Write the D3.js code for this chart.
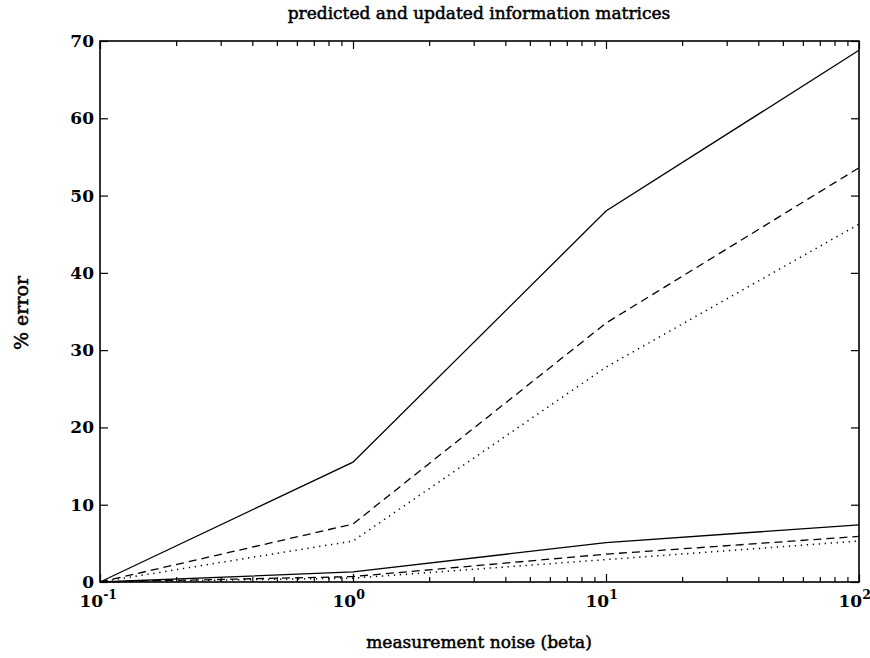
<!DOCTYPE html>
<html>
<head>
<meta charset="utf-8">
<script src="https://cdn.jsdelivr.net/npm/d3@7"></script>
<style>
html,body{margin:0;padding:0;background:#fff;}
svg{display:block;}
</style>
</head>
<body>
<svg id="chart" width="870" height="658"></svg>
<script>
// ---- data ----
const xValues = [0.1, 1, 10, 100];
const predictedSolid  = [0, 15.5, 48.0, 68.8];
const predictedDashed = [0, 7.5, 33.5, 53.6];
const predictedDotted = [0, 5.3, 27.8, 46.3];
const updatedSolid    = [0, 1.3, 5.1, 7.4];
const updatedDashed   = [0, 0.7, 3.6, 5.9];
const updatedDotted   = [0, 0.5, 2.9, 5.3];
const xMajorTicks = [0.1, 1, 10, 100];
const yTicks = [0, 10, 20, 30, 40, 50, 60, 70];
const titleText = "predicted and updated information matrices";
const xLabelText = "measurement noise (beta)";
const yLabelText = "% error";

// ---- layout ----
const plotLeft = 100, plotRight = 859, plotTop = 41, plotBottom = 582;
const svg = d3.select("#chart");
const x = d3.scaleLog().domain([0.1, 100]).range([plotLeft, plotRight]);
const y = d3.scaleLinear().domain([0, 70]).range([plotBottom, plotTop]);
const font = "'DejaVu Serif', 'Liberation Serif', serif";

const xMinor = [];
[0.1, 1, 10].forEach(d => { for (let k = 2; k <= 9; k++) xMinor.push(+(d * k).toFixed(3)); });

function styleAxis(g) {
  g.select(".domain").remove();
  g.selectAll(".tick line").attr("stroke", "#000").attr("stroke-width", 1.2);
}

// frame
svg.append("rect").attr("x", plotLeft).attr("y", plotTop)
  .attr("width", plotRight - plotLeft).attr("height", plotBottom - plotTop)
  .attr("fill", "none").attr("stroke", "#000").attr("stroke-width", 1.6);

// bottom axis major with labels
const gxb = svg.append("g").attr("transform", `translate(0,${plotBottom})`)
  .call(d3.axisBottom(x).tickValues(xMajorTicks).tickSize(-8).tickPadding(16).tickFormat(() => ""));
styleAxis(gxb);
gxb.selectAll(".tick text").each(function(d) {
  const t = d3.select(this);
  t.text("10").attr("font-family", font).attr("font-size", 17).attr("font-weight", "bold")
    .attr("fill", "#000").attr("x", -21).attr("y", 25).attr("dy", null).attr("text-anchor", "start");
  t.append("tspan").attr("dy", -8).attr("font-size", 12.5)
    .text(String(Math.round(Math.log10(d))));
});
// bottom minor
styleAxis(svg.append("g").attr("transform", `translate(0,${plotBottom})`)
  .call(d3.axisBottom(x).tickValues(xMinor).tickSize(-5).tickFormat(() => "")));
// top axis
styleAxis(svg.append("g").attr("transform", `translate(0,${plotTop})`)
  .call(d3.axisTop(x).tickValues(xMajorTicks).tickSize(-8).tickFormat(() => "")));
styleAxis(svg.append("g").attr("transform", `translate(0,${plotTop})`)
  .call(d3.axisTop(x).tickValues(xMinor).tickSize(-5).tickFormat(() => "")));

// left axis
const gyl = svg.append("g").attr("transform", `translate(${plotLeft},0)`)
  .call(d3.axisLeft(y).tickValues(yTicks).tickSize(-8).tickPadding(6).tickFormat(d3.format("d")));
styleAxis(gyl);
gyl.selectAll(".tick text").attr("font-family", font).attr("font-size", 17)
  .attr("font-weight", "bold").attr("fill", "#000").attr("x", -6);
// right axis
styleAxis(svg.append("g").attr("transform", `translate(${plotRight},0)`)
  .call(d3.axisRight(y).tickValues(yTicks).tickSize(-8).tickFormat(() => "")));

// lines
const series = [
  {vals: predictedSolid, dash: null},
  {vals: predictedDashed, dash: "8,5"},
  {vals: predictedDotted, dash: "1.3,4.7"},
  {vals: updatedSolid, dash: null},
  {vals: updatedDashed, dash: "8,5"},
  {vals: updatedDotted, dash: "1.3,4.7"}
];
const line = d3.line().x(d => x(d[0])).y(d => y(d[1]));
series.forEach(s => {
  svg.append("path")
    .datum(xValues.map((xv, i) => [xv, s.vals[i]]))
    .attr("d", line)
    .attr("fill", "none").attr("stroke", "#000")
    .attr("stroke-width", s.dash && s.dash.startsWith("1.3") ? 1.5 : 1.3)
    .attr("stroke-dasharray", s.dash);
});

// titles
svg.append("text").attr("x", 479).attr("y", 19)
  .attr("text-anchor", "middle").attr("font-family", font).attr("font-size", 17)
  .attr("font-weight", "normal").attr("stroke", "#000").attr("stroke-width", 0.5)
  .text(titleText);
svg.append("text").attr("x", 479).attr("y", 648)
  .attr("text-anchor", "middle").attr("font-family", font).attr("font-size", 17)
  .attr("font-weight", "normal").attr("stroke", "#000").attr("stroke-width", 0.5)
  .text(xLabelText);
svg.append("text").attr("transform", "translate(28,313) rotate(-90)")
  .attr("text-anchor", "middle").attr("font-family", font).attr("font-size", 19)
  .attr("font-weight", "normal").attr("stroke", "#000").attr("stroke-width", 0.5)
  .text(yLabelText);
</script>
</body>
</html>
